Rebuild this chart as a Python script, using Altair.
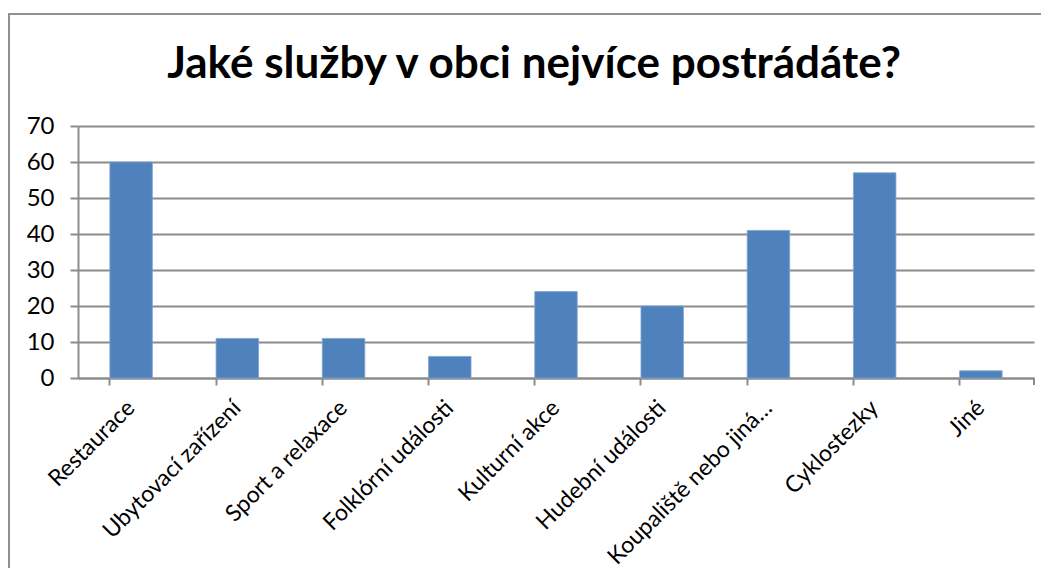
import altair as alt
import pandas as pd

categories = ["Restaurace", "Ubytovací zařízení", "Sport a relaxace", "Folklórní události",
              "Kulturní akce", "Hudební události", "Koupaliště nebo jiná…", "Cyklostezky", "Jiné"]
values = [60, 11, 11, 6, 24, 20, 41, 57, 2]
y_ticks = [0, 10, 20, 30, 40, 50, 60, 70]
title_text = "Jaké služby v obci nejvíce postrádáte?"

df = pd.DataFrame({"kategorie": categories, "pocet": values})
df_title = pd.DataFrame({"t": [title_text]})

W, H = 956, 252
FONT = "Lato"
GRAY = "#8c8c8c"

base = alt.Chart(df)

bars = base.mark_bar(color="#4F81BD", stroke="#7fa3d0", strokeWidth=0.8).encode(
    x=alt.X("kategorie:N", sort=categories, title=None,
            scale=alt.Scale(paddingInner=0.6, paddingOuter=0.3),
            axis=alt.Axis(labelAngle=-45, labelFont=FONT, labelFontSize=23, labelColor="#000000",
                          labelAlign="right", labelBaseline="middle", labelPadding=19,
                          bandPosition=0, tickSize=7, tickColor=GRAY, tickWidth=2,
                          domainColor=GRAY, domainWidth=2, grid=False, labelLimit=400)),
    y=alt.Y("pocet:Q", title=None,
            scale=alt.Scale(domain=[0, 70], nice=False),
            axis=alt.Axis(values=y_ticks, labelFont=FONT, labelFontSize=24, labelColor="#000000",
                          labelPadding=16, tickSize=8, tickColor=GRAY, tickWidth=2,
                          domainColor=GRAY, domainWidth=2, grid=True, gridColor=GRAY, gridWidth=2)),
)

end_tick = base.mark_rule(color=GRAY, strokeWidth=2).encode(
    x=alt.value(W), y=alt.value(H), y2=alt.value(H + 7)
)

frame = base.mark_rect(fill=None, stroke="#909090", strokeWidth=2).encode(
    x=alt.value(-69), x2=alt.value(W + 200), y=alt.value(-112), y2=alt.value(H + 400)
)

title = alt.Chart(df_title).mark_text(font=FONT, fontSize=44, fontWeight="bold", color="#000000",
                                      align="center", baseline="alphabetic").encode(
    text="t:N", x=alt.value(456), y=alt.value(-48)
)

chart = alt.layer(frame, bars, end_tick, title).properties(
    width=W, height=H,
    padding={"left": 70, "top": 118, "right": 7, "bottom": 190},
    autosize=alt.AutoSizeParams(type="none"),
).configure_view(stroke=None)

chart.save("out.html", embed_options={"renderer": "svg", "actions": False})
